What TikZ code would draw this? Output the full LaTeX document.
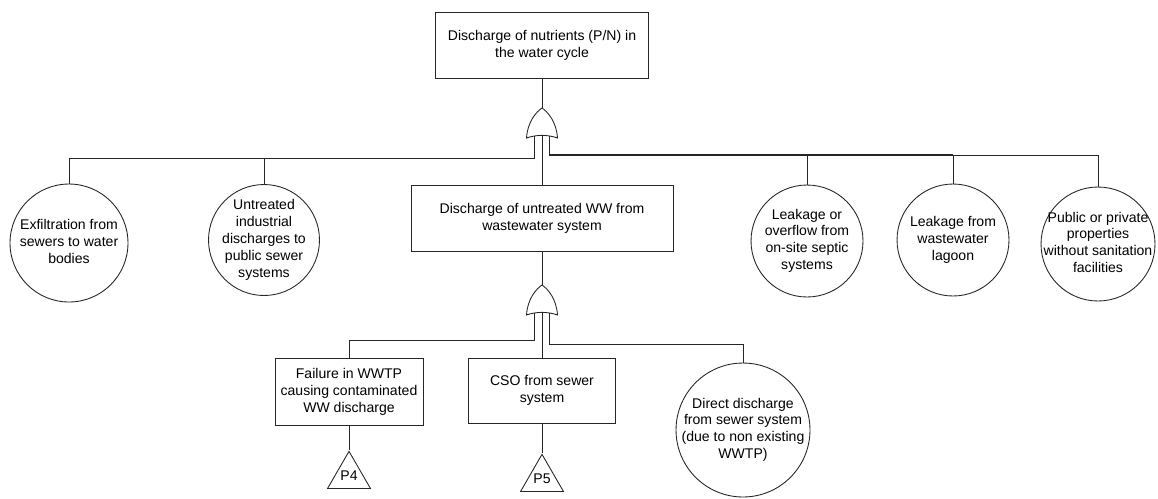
\documentclass[tikz,border=0pt]{standalone}
\usepackage{fontspec}
\setmainfont{Liberation Sans}
\usetikzlibrary{calc,positioning,shapes.geometric}
\definecolor{Wire}{HTML}{262626}
\tikzset{
  eventbox/.style={
    draw=Wire, line width=0.5pt, fill=white, align=center, inner sep=2pt
  },
  basic/.style={
    circle, draw=Wire, line width=0.5pt, fill=white, inner sep=0pt
  },
  transfer/.style={
    regular polygon, regular polygon sides=3, draw=Wire, line width=0.5pt,
    fill=white, minimum size=0.99cm, inner sep=0pt
  },
  wire/.style={draw=Wire, line width=0.5pt},
  busline/.style={draw=Wire, line width=1pt},
  orgate/.pic={
    \draw[wire, fill=white] (-15.5,30) .. controls (-14.5,14) and (-6,4) .. (0,0) coordinate (-out)
      .. controls (6,4) and (14.5,14) .. (15.5,30)
      .. controls (6,26.5) and (-6,26.5) .. cycle;
    \coordinate (-in1) at (-7.5,28);
    \coordinate (-in2) at (0,27.5);
    \coordinate (-in3) at (7.5,28);
  }
}
\newcommand{\evtext}[1]{\makebox[0pt]{\begin{tabular}{@{}c@{}}#1\end{tabular}}}

\begin{document}
\begin{tikzpicture}[x=0.02cm, y=-0.02cm, font=\fontsize{8}{9.6}\selectfont]
  \useasboundingbox (0,0) rectangle (1158,498);
  % top event and the first OR gate
  \node[eventbox, minimum width=4.26cm, minimum height=1.32cm] (top) at (542,45)
    {Discharge of nutrients (P/N) in\\the water cycle};
  \pic (g1) at (542,108) {orgate};
  \node[eventbox, minimum width=5.24cm, minimum height=1.32cm] (mid) at (542,218)
    {Discharge of untreated WW from\\wastewater system};
  \pic (g2) at (542,285) {orgate};

  % basic events under the first gate
  \node[basic, minimum size=2.36cm] (exf) at (69,243) {\evtext{Exfiltration from\\sewers to water\\bodies}};
  \node[basic, minimum size=2.22cm] (unt) at (264,240) {\evtext{Untreated\\industrial\\discharges to\\public sewer\\systems}};
  \node[basic, minimum size=2.24cm] (lea) at (807,241) {\evtext{Leakage or\\overflow from\\on-site septic\\systems}};
  \node[basic, minimum size=2.24cm] (lag) at (953,240) {\evtext{Leakage from\\wastewater\\lagoon}};
  \node[basic, minimum size=2.28cm] (pub) at (1098,244) {\evtext{Public or private\\properties\\without sanitation\\facilities}};

  % events under the second gate
  \node[eventbox, minimum width=2.96cm, minimum height=1.34cm] (fail) at (349,391.5)
    {Failure in WWTP\\causing contaminated\\WW discharge};
  \node[eventbox, minimum width=2.94cm, minimum height=1.3cm] (cso) at (542,390.5)
    {CSO from sewer\\system};
  \node[basic, minimum size=2.68cm] (dir) at (743,430) {\evtext{Direct discharge\\from sewer system\\(due to non existing\\WWTP)}};
  \node[transfer, below=0.5cm of fail] (p4) {P4};
  \node[transfer, below=0.6cm of cso] (p5) {P5};

  % connectors
  \draw[wire] (top.south) -- (g1-out);
  \coordinate (busL) at ($(g1-in1)+(0,22)$);
  \coordinate (busR) at ($(g1-in3)+(0,19)$);
  \draw[wire] (g1-in1) -- (busL) -| (exf.north);
  \draw[wire] (unt.north) -- (busL -| unt.north);
  \draw[wire] (g1-in2) -- (mid.north);
  \draw[busline] (g1-in3) -- (busR) -- (busR -| lag.north);
  \draw[wire] (busR -| lag.north) -| (pub.north);
  \draw[wire] (lea.north) -- (busR -| lea.north);
  \draw[wire] (lag.north) -- (busR -| lag.north);

  \draw[wire] (mid.south) -- (g2-out);
  \coordinate (busA) at ($(g2-in1)+(0,27)$);
  \coordinate (busB) at ($(g2-in3)+(0,31)$);
  \draw[wire] (g2-in1) -- (busA) -| (fail.north);
  \draw[wire] (g2-in2) -- (cso.north);
  \draw[wire] (g2-in3) -- (busB) -| (dir.north);
  \draw[wire] (fail.south) -- (p4.north);
  \draw[wire] (cso.south) -- (p5.north);
\end{tikzpicture}
\end{document}
